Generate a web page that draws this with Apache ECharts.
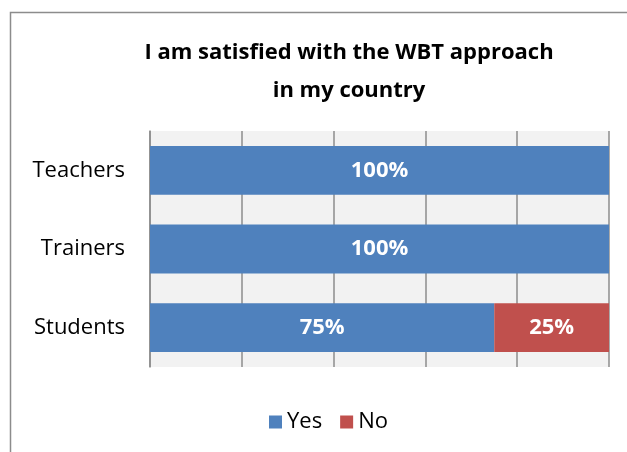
<!DOCTYPE html>
<html><head><meta charset="utf-8">
<script src="https://cdn.jsdelivr.net/npm/echarts@6/dist/echarts.min.js"></script>
<style>html,body{margin:0;padding:0;background:#fff}#c{width:627px;height:452px}</style>
</head><body><div id="c"></div>
<script>
var categories = ['Teachers', 'Trainers', 'Students'];
var yesValues = [100, 100, 75];
var noValues = [0, 0, 25];
var xTicks = [0, 20, 40, 60, 80, 100];
var font = '"Open Sans", "Noto Sans", sans-serif';
var chart = echarts.init(document.getElementById('c'));
function lbl(p){ return p.value > 0 ? p.value + '%' : ''; }
chart.setOption({
  animation: false,
  graphic: [{
    type: 'rect', shape: {x: 10.5, y: 12.5, width: 700, height: 500},
    style: {fill: 'none', stroke: '#8c8c8c', lineWidth: 1.5}, silent: true, z: -1
  }],
  title: {
    text: 'I am satisfied with the WBT approach\nin my country',
    left: 344, top: 29, textAlign: 'center',
    textStyle: {fontFamily: font, fontWeight: 'bold', fontSize: 22, color: '#000', lineHeight: 38}
  },
  legend: {
    data: ['Yes', 'No'], left: 264, top: 406, icon: 'rect',
    itemWidth: 13, itemHeight: 13, itemGap: 18,
    textStyle: {fontFamily: font, fontSize: 22, color: '#000'}
  },
  grid: {left: 150, right: 18, top: 131, bottom: 85, show: true, backgroundColor: '#F2F2F2', borderWidth: 0},
  xAxis: {
    type: 'value', min: xTicks[0], max: xTicks[xTicks.length-1], interval: xTicks[1]-xTicks[0],
    axisLabel: {show: false}, axisLine: {show: false}, axisTick: {show: false},
    splitLine: {show: true, lineStyle: {color: '#8c8c8c', width: 1.5}}
  },
  yAxis: {
    type: 'category', data: categories, inverse: true,
    axisLine: {show: true, lineStyle: {color: '#8c8c8c', width: 1.5}},
    axisTick: {show: false},
    axisLabel: {fontFamily: font, fontSize: 22, color: '#000', margin: 25}
  },
  series: [
    {name: 'Yes', type: 'bar', stack: 't', data: yesValues, barCategoryGap: '38%',
     itemStyle: {color: '#4F81BD'},
     label: {show: true, position: 'inside', formatter: lbl, color: '#fff', fontWeight: 'bold', fontSize: 22, fontFamily: font}},
    {name: 'No', type: 'bar', stack: 't', data: noValues,
     itemStyle: {color: '#C0504D'},
     label: {show: true, position: 'inside', formatter: lbl, color: '#fff', fontWeight: 'bold', fontSize: 22, fontFamily: font}}
  ]
});
</script></body></html>
